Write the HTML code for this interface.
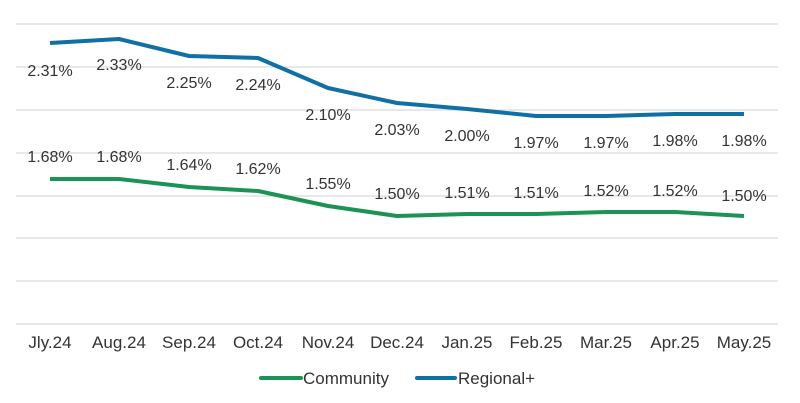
<!DOCTYPE html>
<html><head><meta charset="utf-8"><style>
html,body{margin:0;padding:0;background:#fff}
svg{display:block}
text{font-family:"Liberation Sans",sans-serif;fill:#333;font-size:16px}
</style></head><body>
<svg width="800" height="403" viewBox="0 0 800 403" xmlns="http://www.w3.org/2000/svg">
<g stroke="#d9d9d9" stroke-width="1.3">
<line x1="16" x2="778" y1="24" y2="24"/>
<line x1="16" x2="778" y1="67" y2="67"/>
<line x1="16" x2="778" y1="110" y2="110"/>
<line x1="16" x2="778" y1="153" y2="153"/>
<line x1="16" x2="778" y1="196" y2="196"/>
<line x1="16" x2="778" y1="238" y2="238"/>
<line x1="16" x2="778" y1="281" y2="281"/>
<line x1="16" x2="778" y1="324" y2="324"/>
</g>
<polyline fill="none" stroke="#1170a3" stroke-width="4" stroke-linejoin="round" points="50,43 119,39 189,56 258,58 328,88 397,103 467,109 536,116 606,116 675,114 744,114"/>
<polyline fill="none" stroke="#1a9355" stroke-width="4" stroke-linejoin="round" points="50,179 119,179 189,187 258,191 328,206 397,216 467,214 536,214 606,212 675,212 744,216"/>
<g text-anchor="middle">
<text x="50" y="76">2.31%</text>
<text x="119" y="70">2.33%</text>
<text x="189" y="88">2.25%</text>
<text x="258" y="90">2.24%</text>
<text x="328" y="120">2.10%</text>
<text x="397" y="135">2.03%</text>
<text x="467" y="141">2.00%</text>
<text x="536" y="148">1.97%</text>
<text x="606" y="148">1.97%</text>
<text x="675" y="146">1.98%</text>
<text x="744" y="146">1.98%</text>
<text x="50" y="162">1.68%</text>
<text x="119" y="162">1.68%</text>
<text x="189" y="170">1.64%</text>
<text x="258" y="174">1.62%</text>
<text x="328" y="189">1.55%</text>
<text x="397" y="199">1.50%</text>
<text x="467" y="198">1.51%</text>
<text x="536" y="198">1.51%</text>
<text x="606" y="196">1.52%</text>
<text x="675" y="196">1.52%</text>
<text x="744" y="201">1.50%</text>
<text x="50" y="348" style="font-size:17px">Jly.24</text>
<text x="119" y="348" style="font-size:17px">Aug.24</text>
<text x="189" y="348" style="font-size:17px">Sep.24</text>
<text x="258" y="348" style="font-size:17px">Oct.24</text>
<text x="328" y="348" style="font-size:17px">Nov.24</text>
<text x="397" y="348" style="font-size:17px">Dec.24</text>
<text x="467" y="348" style="font-size:17px">Jan.25</text>
<text x="536" y="348" style="font-size:17px">Feb.25</text>
<text x="606" y="348" style="font-size:17px">Mar.25</text>
<text x="675" y="348" style="font-size:17px">Apr.25</text>
<text x="744" y="348" style="font-size:17px">May.25</text>
</g>
<line x1="261" x2="301" y1="378" y2="378" stroke="#1a9355" stroke-width="4" stroke-linecap="round"/>
<text x="303" y="384" style="font-size:17px">Community</text>
<line x1="417" x2="455" y1="378" y2="378" stroke="#1170a3" stroke-width="4" stroke-linecap="round"/>
<text x="458" y="384" style="font-size:17px">Regional+</text>
</svg>
</body></html>
